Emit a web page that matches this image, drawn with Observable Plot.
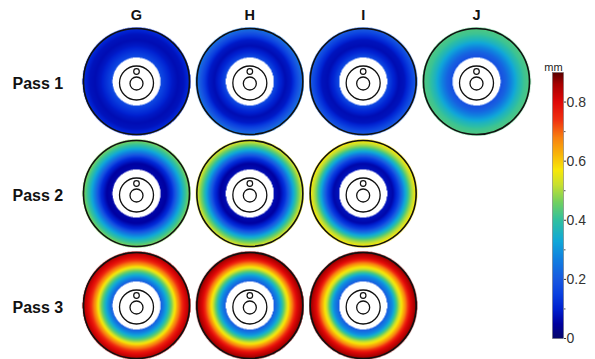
<!DOCTYPE html>
<html>
<head>
<meta charset="utf-8">
<script src="https://cdn.jsdelivr.net/npm/d3@7"></script>
<script src="https://cdn.jsdelivr.net/npm/@observablehq/plot@0.6"></script>
<style>
  html, body { margin: 0; padding: 0; background: #fff; }
  #chart { position: relative; width: 595px; height: 359px; }
  #chart > svg { position: absolute; top: 0; }
</style>
</head>
<body>
<div id="chart"></div>
<script>
// Wear-depth maps: one disc per specimen (columns) and per pass (rows)
const specimens = ["G", "H", "I", "J"];
const passes = ["Pass 1", "Pass 2", "Pass 3"];

// Radial stations across the worn band: 0 = bore edge, 1 = rim
const stations = [0, 0.2, 0.4, 0.6, 0.8, 1];

// Depth (mm) at each radial station, one row per specimen
const pass1 = [
  [0.17, 0.13, 0.09, 0.07, 0.08, 0.12], // G
  [0.17, 0.11, 0.07, 0.09, 0.17, 0.25], // H
  [0.17, 0.11, 0.07, 0.08, 0.14, 0.21], // I
  [0.18, 0.22, 0.29, 0.36, 0.41, 0.43]  // J
];
const pass2 = [
  [0.06, 0.05, 0.12, 0.26, 0.38, 0.47], // G
  [0.07, 0.05, 0.13, 0.28, 0.43, 0.55], // H
  [0.08, 0.06, 0.15, 0.31, 0.47, 0.58]  // I
];
const pass3 = [
  [0.20, 0.32, 0.48, 0.66, 0.78, 0.86], // G
  [0.20, 0.31, 0.49, 0.66, 0.80, 0.88], // H
  [0.20, 0.30, 0.50, 0.65, 0.80, 0.88]  // I
];

// Colour bar
const depthMax = 0.9;
const scaleTicks = [0, 0.2, 0.4, 0.6, 0.8];
const scaleMinorTicks = [0.1, 0.3, 0.5, 0.7];
const unitLabel = "mm";

// Jet-style colour ramp (stop positions in mm)
const colorStops = [0, 0.05, 0.1, 0.15, 0.2, 0.27, 0.33, 0.4, 0.46, 0.52, 0.57, 0.62, 0.68, 0.74, 0.8, 0.86, 0.9];
const colorRange = ["#06066a", "#0000a0", "#0020d0", "#0a40e0", "#1858e0", "#1080e0", "#10a8d8", "#30c0a0",
                    "#70d060", "#c8e030", "#f8e808", "#f8b808", "#f88010", "#f03010", "#e00808", "#a80000", "#580000"];

// ---- layout ----
const width = 595, height = 359;
const firstCol = 136, lastCol = 476;   // pixel centres of the first/last column
const firstRow = 81, lastRow = 305;    // pixel centres of the first/last row
const rimR = 53, boreR = 24;           // disc and bore radii (px)
const pxPerCol = (lastCol - firstCol) / (specimens.length - 1);
const pxPerRow = (lastRow - firstRow) / (passes.length - 1);
const font = "'Liberation Sans', Arial, Helvetica, sans-serif";

const profiles = [pass1, pass2, pass3];
const ramp = d3.scaleLinear(colorStops.map(v => v / depthMax), colorRange).clamp(true);
const colorScale = {type: "linear", domain: [0, depthMax], interpolate: t => ramp(t)};

// depth at fraction u of the worn band, from the station readings
function depthAt(profile, u) {
  for (let i = 1; i < stations.length; ++i) {
    if (u <= stations[i]) {
      const t = (u - stations[i - 1]) / (stations[i] - stations[i - 1]);
      return profile[i - 1] + t * (profile[i] - profile[i - 1]);
    }
  }
  return profile[profile.length - 1];
}

function depthField(x, y) {
  const col = Math.round(x), row = Math.round(y);
  const profile = profiles[row] && profiles[row][col];
  if (!profile) return NaN;
  const r = Math.hypot((x - col) * pxPerCol, (y - row) * pxPerRow);
  if (r < boreR || r > rimR + 1) return NaN;
  return depthAt(profile, Math.min(1, (r - boreR) / (rimR - boreR)));
}

const discs = profiles.flatMap((p, row) => p.map((_, col) => ({row, col})));

const maps = Plot.plot({
  width, height,
  margin: 0,
  style: {fontFamily: font, background: "transparent"},
  x: {domain: [0, specimens.length - 1], range: [firstCol, lastCol], axis: null},
  y: {domain: [0, passes.length - 1], range: [firstRow, lastRow], axis: null},
  color: colorScale,
  marks: [
    Plot.raster({
      x1: -0.5, x2: specimens.length - 0.5, y1: -0.5, y2: passes.length - 0.5,
      width: Math.round(specimens.length * pxPerCol * 2),
      height: Math.round(passes.length * pxPerRow * 2),
      fill: depthField
    }),
    // rim outline
    Plot.dot(discs, {x: "col", y: "row", r: rimR, fill: "none", stroke: "#111", strokeWidth: 1.6}),
    // hub: ring, centre hole and the small index hole above it
    Plot.dot(discs, {x: "col", y: "row", r: 17, dy: 1.5, fill: "none", stroke: "#111", strokeWidth: 1.3}),
    Plot.dot(discs, {x: "col", y: "row", r: 6.5, dy: 2, fill: "none", stroke: "#111", strokeWidth: 1.3}),
    Plot.dot(discs, {x: "col", y: "row", r: 2.8, dy: -10, fill: "none", stroke: "#111", strokeWidth: 1.2}),
    // specimen and pass labels
    Plot.text(specimens, {x: (d, i) => i, text: d => d, frameAnchor: "top", lineAnchor: "middle", dy: 14.5,
      fontSize: 14.5, fontWeight: "bold", fill: "#111"}),
    Plot.text(passes, {y: (d, i) => i, text: d => d, frameAnchor: "left", textAnchor: "start", dx: 12, dy: 2,
      fontSize: 16, fontWeight: "bold", fill: "#111", style: "letter-spacing:1.1px"})
  ]
});

const bar = Plot.plot({
  width: 55, height,
  marginTop: 72, marginBottom: 21, marginLeft: 12, marginRight: 32,
  style: {fontFamily: font, background: "transparent"},
  x: {domain: [0, 1], axis: null},
  y: {domain: [0, depthMax], axis: null},
  color: colorScale,
  marks: [
    Plot.raster({x1: 0, x2: 1, y1: 0, y2: depthMax, width: 1, height: 266, fill: (x, y) => y}),
    Plot.frame({stroke: "#666", strokeWidth: 0.5}),
    Plot.axisY({ticks: scaleTicks, anchor: "right", tickSize: 2, tickFormat: () => "", label: null, color: "#333"}),
    Plot.axisY({ticks: scaleMinorTicks, anchor: "right", tickSize: 1.5, tickFormat: () => "", label: null, color: "#555"}),
    Plot.text(scaleTicks, {y: d => d, text: d => d === 0 ? "0" : d.toFixed(1), frameAnchor: "right",
      textAnchor: "start", dx: 3, fontSize: 14, fill: "#333"}),
    Plot.text([unitLabel], {frameAnchor: "top-left", textAnchor: "middle", dx: 1, dy: -9, text: d => d,
      fontSize: 11, fill: "#222"})
  ]
});
bar.style.left = "540px";

const chart = document.getElementById("chart");
chart.append(maps, bar);
</script>
</body>
</html>
